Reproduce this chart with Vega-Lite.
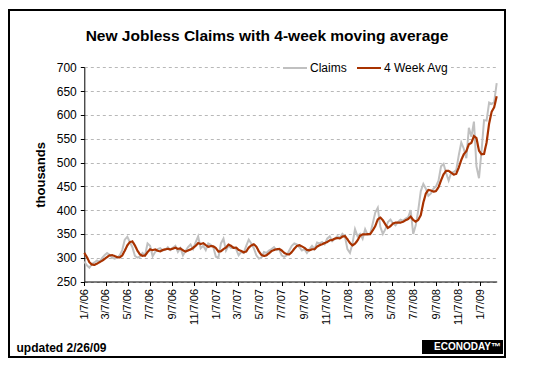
{
  "$schema": "https://vega.github.io/schema/vega-lite/v6.json",
  "width": 496,
  "height": 347,
  "autosize": {"type": "none"},
  "padding": {"left": 9, "top": 10, "right": 38, "bottom": 17},
  "background": "white",
  "config": {
    "view": {"stroke": "black", "strokeWidth": 2, "fill": "white"},
    "font": "Liberation Sans",
    "axis": {"labelFont": "Liberation Sans", "titleFont": "Liberation Sans", "zindex": 1},
    "legend": {"labelFont": "Liberation Sans", "titleFont": "Liberation Sans"}
  },
  "title": {
    "text": "New Jobless Claims with 4-week moving average",
    "font": "Liberation Sans",
    "fontSize": 15.5,
    "fontWeight": "bold",
    "color": "black",
    "frame": "group",
    "anchor": "middle",
    "baseline": "alphabetic",
    "offset": -30,
    "dx": 10,
    "dy": 16
  },
  "data": {
    "format": {"parse": {"week": "date:'%Y-%m-%d'"}},
    "values": [
      {"week": "2006-01-07", "claims": 292, "avg4": 310},
      {"week": "2006-01-14", "claims": 284, "avg4": 301.5},
      {"week": "2006-01-21", "claims": 279, "avg4": 290.8},
      {"week": "2006-01-28", "claims": 287, "avg4": 285.5},
      {"week": "2006-02-04", "claims": 290, "avg4": 285},
      {"week": "2006-02-11", "claims": 294, "avg4": 287.5},
      {"week": "2006-02-18", "claims": 291, "avg4": 290.5},
      {"week": "2006-02-25", "claims": 299, "avg4": 293.5},
      {"week": "2006-03-04", "claims": 305, "avg4": 297.3},
      {"week": "2006-03-11", "claims": 310, "avg4": 301.3},
      {"week": "2006-03-18", "claims": 306, "avg4": 305},
      {"week": "2006-03-25", "claims": 300, "avg4": 305.3},
      {"week": "2006-04-01", "claims": 298, "avg4": 303.5},
      {"week": "2006-04-08", "claims": 300, "avg4": 301},
      {"week": "2006-04-15", "claims": 305, "avg4": 300.8},
      {"week": "2006-04-22", "claims": 316, "avg4": 304.8},
      {"week": "2006-04-29", "claims": 338, "avg4": 314.8},
      {"week": "2006-05-06", "claims": 344, "avg4": 325.8},
      {"week": "2006-05-13", "claims": 333, "avg4": 332.8},
      {"week": "2006-05-20", "claims": 322, "avg4": 334.3},
      {"week": "2006-05-27", "claims": 304, "avg4": 325.8},
      {"week": "2006-06-03", "claims": 300, "avg4": 314.8},
      {"week": "2006-06-10", "claims": 302, "avg4": 307},
      {"week": "2006-06-17", "claims": 310, "avg4": 304},
      {"week": "2006-06-24", "claims": 305, "avg4": 304.3},
      {"week": "2006-07-01", "claims": 330, "avg4": 311.8},
      {"week": "2006-07-08", "claims": 325, "avg4": 317.5},
      {"week": "2006-07-15", "claims": 303, "avg4": 315.8},
      {"week": "2006-07-22", "claims": 312, "avg4": 317.5},
      {"week": "2006-07-29", "claims": 318, "avg4": 314.5},
      {"week": "2006-08-05", "claims": 320, "avg4": 313.3},
      {"week": "2006-08-12", "claims": 315, "avg4": 316.3},
      {"week": "2006-08-19", "claims": 317, "avg4": 317.5},
      {"week": "2006-08-26", "claims": 322, "avg4": 318.5},
      {"week": "2006-09-02", "claims": 316, "avg4": 317.5},
      {"week": "2006-09-09", "claims": 321, "avg4": 319},
      {"week": "2006-09-16", "claims": 325, "avg4": 321},
      {"week": "2006-09-23", "claims": 312, "avg4": 318.5},
      {"week": "2006-09-30", "claims": 320, "avg4": 319.5},
      {"week": "2006-10-07", "claims": 305, "avg4": 315.5},
      {"week": "2006-10-14", "claims": 314, "avg4": 312.8},
      {"week": "2006-10-21", "claims": 322, "avg4": 315.3},
      {"week": "2006-10-28", "claims": 328, "avg4": 317.3},
      {"week": "2006-11-04", "claims": 318, "avg4": 320.5},
      {"week": "2006-11-11", "claims": 332, "avg4": 325},
      {"week": "2006-11-18", "claims": 345, "avg4": 330.8},
      {"week": "2006-11-25", "claims": 320, "avg4": 328.8},
      {"week": "2006-12-02", "claims": 325, "avg4": 330.5},
      {"week": "2006-12-09", "claims": 316, "avg4": 326.5},
      {"week": "2006-12-16", "claims": 330, "avg4": 322.8},
      {"week": "2006-12-23", "claims": 327, "avg4": 324.5},
      {"week": "2006-12-30", "claims": 322, "avg4": 323.8},
      {"week": "2007-01-06", "claims": 302, "avg4": 320.3},
      {"week": "2007-01-13", "claims": 300, "avg4": 312.8},
      {"week": "2007-01-20", "claims": 330, "avg4": 313.5},
      {"week": "2007-01-27", "claims": 340, "avg4": 318},
      {"week": "2007-02-03", "claims": 315, "avg4": 321.3},
      {"week": "2007-02-10", "claims": 325, "avg4": 327.5},
      {"week": "2007-02-17", "claims": 320, "avg4": 325},
      {"week": "2007-02-24", "claims": 322, "avg4": 320.5},
      {"week": "2007-03-03", "claims": 318, "avg4": 321.3},
      {"week": "2007-03-10", "claims": 305, "avg4": 316.3},
      {"week": "2007-03-17", "claims": 312, "avg4": 314.3},
      {"week": "2007-03-24", "claims": 310, "avg4": 311.3},
      {"week": "2007-03-31", "claims": 325, "avg4": 313},
      {"week": "2007-04-07", "claims": 338, "avg4": 321.3},
      {"week": "2007-04-14", "claims": 330, "avg4": 325.8},
      {"week": "2007-04-21", "claims": 320, "avg4": 328.3},
      {"week": "2007-04-28", "claims": 305, "avg4": 323.3},
      {"week": "2007-05-05", "claims": 298, "avg4": 313.3},
      {"week": "2007-05-12", "claims": 300, "avg4": 305.8},
      {"week": "2007-05-19", "claims": 312, "avg4": 303.8},
      {"week": "2007-05-26", "claims": 310, "avg4": 305},
      {"week": "2007-06-02", "claims": 315, "avg4": 309.3},
      {"week": "2007-06-09", "claims": 318, "avg4": 313.8},
      {"week": "2007-06-16", "claims": 322, "avg4": 316.3},
      {"week": "2007-06-23", "claims": 316, "avg4": 317.8},
      {"week": "2007-06-30", "claims": 318, "avg4": 318.5},
      {"week": "2007-07-07", "claims": 305, "avg4": 315.3},
      {"week": "2007-07-14", "claims": 302, "avg4": 310.3},
      {"week": "2007-07-21", "claims": 305, "avg4": 307.5},
      {"week": "2007-07-28", "claims": 315, "avg4": 306.8},
      {"week": "2007-08-04", "claims": 325, "avg4": 311.8},
      {"week": "2007-08-11", "claims": 330, "avg4": 318.8},
      {"week": "2007-08-18", "claims": 328, "avg4": 324.5},
      {"week": "2007-08-25", "claims": 322, "avg4": 326.3},
      {"week": "2007-09-01", "claims": 315, "avg4": 323.8},
      {"week": "2007-09-08", "claims": 318, "avg4": 320.8},
      {"week": "2007-09-15", "claims": 310, "avg4": 316.3},
      {"week": "2007-09-22", "claims": 318, "avg4": 315.3},
      {"week": "2007-09-29", "claims": 325, "avg4": 317.8},
      {"week": "2007-10-06", "claims": 318, "avg4": 317.8},
      {"week": "2007-10-13", "claims": 332, "avg4": 323.3},
      {"week": "2007-10-20", "claims": 330, "avg4": 326.3},
      {"week": "2007-10-27", "claims": 333, "avg4": 328.3},
      {"week": "2007-11-03", "claims": 328, "avg4": 330.8},
      {"week": "2007-11-10", "claims": 340, "avg4": 332.8},
      {"week": "2007-11-17", "claims": 345, "avg4": 336.5},
      {"week": "2007-11-24", "claims": 335, "avg4": 337},
      {"week": "2007-12-01", "claims": 340, "avg4": 340},
      {"week": "2007-12-08", "claims": 345, "avg4": 341.3},
      {"week": "2007-12-15", "claims": 342, "avg4": 340.5},
      {"week": "2007-12-22", "claims": 350, "avg4": 344.3},
      {"week": "2007-12-29", "claims": 345, "avg4": 345.5},
      {"week": "2008-01-05", "claims": 318, "avg4": 338.8},
      {"week": "2008-01-12", "claims": 310, "avg4": 330.8},
      {"week": "2008-01-19", "claims": 330, "avg4": 325.8},
      {"week": "2008-01-26", "claims": 360, "avg4": 329.5},
      {"week": "2008-02-02", "claims": 345, "avg4": 336.3},
      {"week": "2008-02-09", "claims": 350, "avg4": 346.3},
      {"week": "2008-02-16", "claims": 340, "avg4": 348.8},
      {"week": "2008-02-23", "claims": 360, "avg4": 348.8},
      {"week": "2008-03-01", "claims": 348, "avg4": 349.5},
      {"week": "2008-03-08", "claims": 350, "avg4": 349.5},
      {"week": "2008-03-15", "claims": 372, "avg4": 357.5},
      {"week": "2008-03-22", "claims": 395, "avg4": 366.3},
      {"week": "2008-03-29", "claims": 405, "avg4": 380.5},
      {"week": "2008-04-05", "claims": 365, "avg4": 384.3},
      {"week": "2008-04-12", "claims": 350, "avg4": 378.8},
      {"week": "2008-04-19", "claims": 360, "avg4": 370},
      {"week": "2008-04-26", "claims": 375, "avg4": 362.5},
      {"week": "2008-05-03", "claims": 380, "avg4": 366.3},
      {"week": "2008-05-10", "claims": 372, "avg4": 371.8},
      {"week": "2008-05-17", "claims": 368, "avg4": 373.8},
      {"week": "2008-05-24", "claims": 375, "avg4": 373.8},
      {"week": "2008-05-31", "claims": 380, "avg4": 373.8},
      {"week": "2008-06-07", "claims": 378, "avg4": 375.3},
      {"week": "2008-06-14", "claims": 382, "avg4": 378.8},
      {"week": "2008-06-21", "claims": 385, "avg4": 381.3},
      {"week": "2008-06-28", "claims": 400, "avg4": 386.3},
      {"week": "2008-07-05", "claims": 350, "avg4": 379.3},
      {"week": "2008-07-12", "claims": 368, "avg4": 375.8},
      {"week": "2008-07-19", "claims": 400, "avg4": 379.5},
      {"week": "2008-07-26", "claims": 440, "avg4": 389.5},
      {"week": "2008-08-02", "claims": 455, "avg4": 415.8},
      {"week": "2008-08-09", "claims": 445, "avg4": 435},
      {"week": "2008-08-16", "claims": 430, "avg4": 442.5},
      {"week": "2008-08-23", "claims": 435, "avg4": 441.3},
      {"week": "2008-08-30", "claims": 445, "avg4": 438.8},
      {"week": "2008-09-06", "claims": 450, "avg4": 440},
      {"week": "2008-09-13", "claims": 462, "avg4": 448},
      {"week": "2008-09-20", "claims": 492, "avg4": 462.3},
      {"week": "2008-09-27", "claims": 497, "avg4": 475.3},
      {"week": "2008-10-04", "claims": 478, "avg4": 482.3},
      {"week": "2008-10-11", "claims": 462, "avg4": 482.3},
      {"week": "2008-10-18", "claims": 478, "avg4": 478.8},
      {"week": "2008-10-25", "claims": 480, "avg4": 474.5},
      {"week": "2008-11-01", "claims": 484, "avg4": 476},
      {"week": "2008-11-08", "claims": 515, "avg4": 489.3},
      {"week": "2008-11-15", "claims": 542, "avg4": 505.3},
      {"week": "2008-11-22", "claims": 529, "avg4": 517.5},
      {"week": "2008-11-29", "claims": 509, "avg4": 523.8},
      {"week": "2008-12-06", "claims": 573, "avg4": 538.3},
      {"week": "2008-12-13", "claims": 554, "avg4": 541.3},
      {"week": "2008-12-20", "claims": 586, "avg4": 555.5},
      {"week": "2008-12-27", "claims": 492, "avg4": 551.3},
      {"week": "2009-01-03", "claims": 467, "avg4": 524.8},
      {"week": "2009-01-10", "claims": 524, "avg4": 517.3},
      {"week": "2009-01-17", "claims": 589, "avg4": 518},
      {"week": "2009-01-24", "claims": 588, "avg4": 542},
      {"week": "2009-01-31", "claims": 626, "avg4": 581.8},
      {"week": "2009-02-07", "claims": 623, "avg4": 606.5},
      {"week": "2009-02-14", "claims": 627, "avg4": 616},
      {"week": "2009-02-21", "claims": 667, "avg4": 639}
    ]
  },
  "encoding": {
    "x": {
      "field": "week",
      "type": "temporal",
      "scale": {
        "domain": [{"year": 2006, "month": 1, "date": 7}, {"year": 2009, "month": 2, "date": 21}],
        "range": [75.3, 487.7],
        "nice": false
      },
      "axis": {
        "values": [
          {"year": 2006, "month": 1, "date": 7}, {"year": 2006, "month": 3, "date": 7},
          {"year": 2006, "month": 5, "date": 7}, {"year": 2006, "month": 7, "date": 7},
          {"year": 2006, "month": 9, "date": 7}, {"year": 2006, "month": 11, "date": 7},
          {"year": 2007, "month": 1, "date": 7}, {"year": 2007, "month": 3, "date": 7},
          {"year": 2007, "month": 5, "date": 7}, {"year": 2007, "month": 7, "date": 7},
          {"year": 2007, "month": 9, "date": 7}, {"year": 2007, "month": 11, "date": 7},
          {"year": 2008, "month": 1, "date": 7}, {"year": 2008, "month": 3, "date": 7},
          {"year": 2008, "month": 5, "date": 7}, {"year": 2008, "month": 7, "date": 7},
          {"year": 2008, "month": 9, "date": 7}, {"year": 2008, "month": 11, "date": 7},
          {"year": 2009, "month": 1, "date": 7}
        ],
        "format": "%-m/%-d/%y",
        "labelAngle": 270,
        "labelFontSize": 11,
        "labelColor": "black",
        "labelPadding": 3,
        "labelOverlap": false,
        "labelFlush": false,
        "domain": true,
        "ticks": true,
        "tickColor": "black",
        "tickSize": 4,
        "domainColor": "black",
        "domainWidth": 1,
        "grid": false,
        "offset": -75.5,
        "title": "updated 2/26/09",
        "titleFontSize": 12,
        "titleFontWeight": "bold",
        "titleColor": "black",
        "titleAlign": "left",
        "titleBaseline": "alphabetic",
        "titleAngle": 0,
        "titleX": 7,
        "titleY": 69.5
      }
    }
  },
  "layer": [
    {
      "mark": {"type": "line", "strokeWidth": 2},
      "encoding": {
        "y": {
          "field": "claims",
          "type": "quantitative",
          "scale": {"domain": [250, 700], "range": [271.5, 57.3], "nice": false, "zero": false},
          "axis": {
            "values": [250, 300, 350, 400, 450, 500, 550, 600, 650, 700],
            "offset": -75.3,
            "grid": true,
            "gridDash": [3, 3],
            "gridColor": "#b8b8b8",
            "gridWidth": 1,
            "domain": true,
            "ticks": true,
            "tickColor": "black",
            "tickSize": 4,
            "domainColor": "black",
            "labelColor": "black",
            "labelFontSize": 12,
            "labelPadding": 4,
            "title": "thousands",
            "titleFontSize": 13,
            "titleFontWeight": "bold",
            "titleColor": "black",
            "titlePadding": 9
          }
        },
        "color": {
          "datum": "Claims",
          "scale": {"domain": ["Claims", "4 Week Avg"], "range": ["#c0c0c0", "#a83200"]},
          "legend": {
            "orient": "none",
            "legendX": 271,
            "legendY": 43,
            "direction": "horizontal",
            "title": null,
            "symbolType": "stroke",
            "symbolStrokeWidth": 2,
            "symbolSize": 576,
            "labelFontSize": 12,
            "labelColor": "black",
            "labelOffset": 2,
            "columnPadding": 6,
            "fillColor": "white",
            "padding": 2
          }
        }
      }
    },
    {
      "mark": {"type": "line", "strokeWidth": 2.2},
      "encoding": {
        "y": {
          "field": "avg4",
          "type": "quantitative",
          "scale": {"domain": [250, 700], "range": [271.5, 57.3], "nice": false, "zero": false},
          "axis": {
            "values": [250, 300, 350, 400, 450, 500, 550, 600, 650, 700],
            "offset": -75.3,
            "grid": true,
            "gridDash": [3, 3],
            "gridColor": "#b8b8b8",
            "gridWidth": 1,
            "domain": true,
            "ticks": true,
            "tickColor": "black",
            "tickSize": 4,
            "domainColor": "black",
            "labelColor": "black",
            "labelFontSize": 12,
            "labelPadding": 4,
            "title": "thousands",
            "titleFontSize": 13,
            "titleFontWeight": "bold",
            "titleColor": "black",
            "titlePadding": 9
          }
        },
        "color": {"datum": "4 Week Avg"},
        "strokeDash": {
          "datum": "ECONODAY™",
          "scale": {"range": [[1, 0]]},
          "legend": {
            "orient": "none",
            "legendX": 413,
            "legendY": 330,
            "title": null,
            "symbolSize": 0,
            "symbolOpacity": 0,
            "symbolStrokeWidth": 0,
            "labelOffset": 0,
            "labelColor": "white",
            "labelFontWeight": "bold",
            "labelFontSize": 10,
            "fillColor": "black",
            "padding": 2
          }
        }
      }
    }
  ]
}
